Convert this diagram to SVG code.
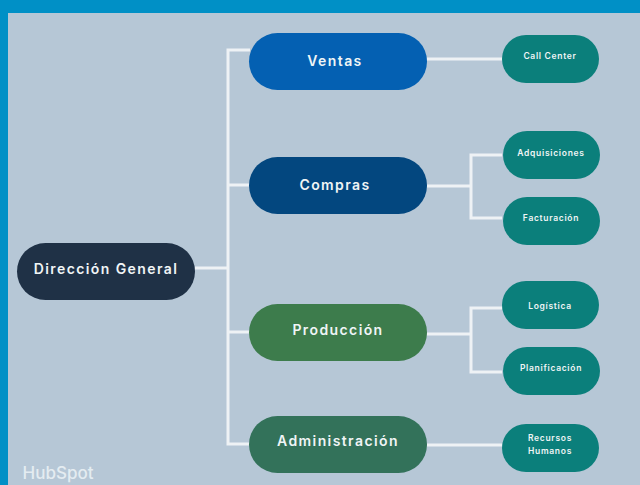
<svg xmlns="http://www.w3.org/2000/svg" width="640" height="485" viewBox="0 0 640 485">
<style>
.c{fill:none;stroke:#eef2f5;stroke-width:3}
text{fill:#f0f5f6;text-anchor:middle;font-family:"Inter","Liberation Sans",sans-serif;font-weight:600}
.m{font-size:14px;letter-spacing:1.4px}
.s{font-size:8.5px;letter-spacing:.7px}
.t{fill:#0b7f7b}
</style>
<rect width="640" height="485" fill="#0090c6"/>
<rect x="8" y="13" width="632" height="472" fill="#b6c7d6"/>
<g id="connectors">
<path class="c" d="M195 268H228M250 50H228V444H250M228 185H250M228 332H250"/>
<path class="c" d="M427 59H502"/>
<path class="c" d="M427 186H471M502 155H471V218H502"/>
<path class="c" d="M427 334H471M502 308H471V372H502"/>
<path class="c" d="M427 445H502"/>
</g>
<g id="direccion"><rect x="17" y="243" width="178" height="57" rx="28.5" fill="#1f3146"/><text class="m" x="106" y="274">Dirección General</text></g>
<g id="ventas"><rect x="249" y="33" width="178" height="57" rx="28.5" fill="#0460b2"/><text class="m" x="335" y="66">Ventas</text></g>
<g id="compras"><rect x="249" y="157" width="178" height="57" rx="28.5" fill="#03477f"/><text class="m" x="335" y="190">Compras</text></g>
<g id="produccion"><rect x="249" y="304" width="178" height="57" rx="28.5" fill="#3d7c4c"/><text class="m" x="338" y="335">Producción</text></g>
<g id="administracion"><rect x="249" y="416" width="178" height="57" rx="28.5" fill="#33725a"/><text class="m" x="338" y="446">Administración</text></g>
<g id="call-center"><rect class="t" x="502" y="35" width="97" height="48" rx="24"/><text class="s" x="550" y="59">Call Center</text></g>
<g id="adquisiciones"><rect class="t" x="503" y="131" width="97" height="48" rx="24"/><text class="s" x="551" y="156">Adquisiciones</text></g>
<g id="facturacion"><rect class="t" x="503" y="197" width="97" height="48" rx="24"/><text class="s" x="551" y="221">Facturación</text></g>
<g id="logistica"><rect class="t" x="502" y="281" width="97" height="48" rx="24"/><text class="s" x="550" y="309">Logística</text></g>
<g id="planificacion"><rect class="t" x="503" y="347" width="97" height="48" rx="24"/><text class="s" x="551" y="371">Planificación</text></g>
<g id="recursos"><rect class="t" x="502" y="424" width="97" height="48" rx="24"/><text class="s" x="550" y="441">Recursos</text><text class="s" x="550" y="454">Humanos</text></g>
<text x="58" y="479" font-size="17" style="font-family:'Inter','Liberation Sans',sans-serif;font-weight:500;fill:#e4ecf1">HubSpot</text>
</svg>
